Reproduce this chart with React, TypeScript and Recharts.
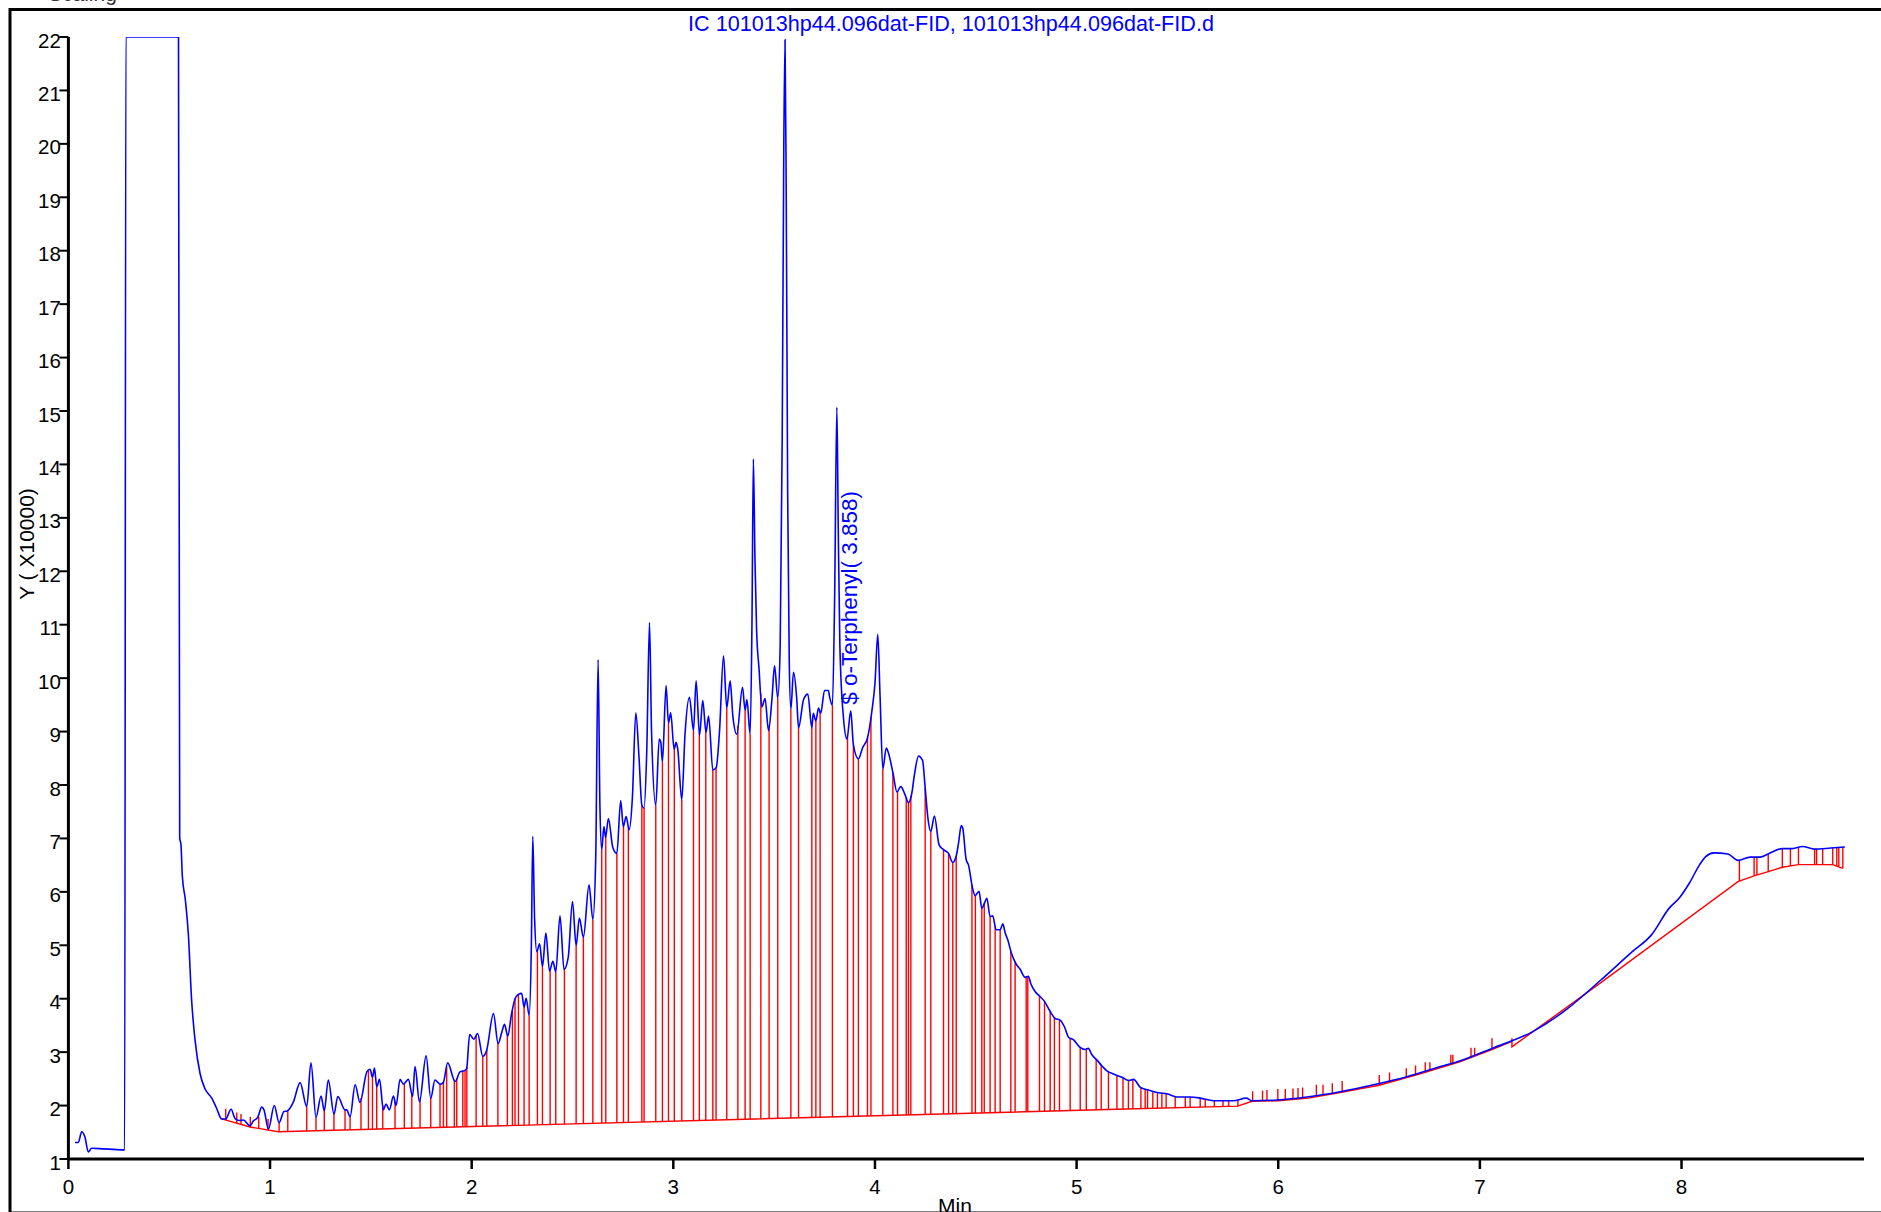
import { ComposedChart, Line, XAxis, YAxis, ReferenceDot } from "recharts";

// FID signal, [minutes, response x10000]
const trace: [number, number][] = [
  [0.033, 1.31], [0.049, 1.31], [0.066, 1.51], [0.082, 1.41], [0.099, 1.13], [0.115, 1.2],
  [0.172, 1.19], [0.223, 1.18], [0.279, 1.17], [0.285, 22], [0.546, 22], [0.552, 7.0],
  [0.558, 6.9], [0.565, 6.3], [0.58, 5.85], [0.595, 5.2], [0.611, 3.98], [0.628, 3.23],
  [0.653, 2.6], [0.678, 2.31], [0.711, 2.14], [0.735, 1.95], [0.76, 1.75], [0.78, 1.75],
  [0.807, 1.93], [0.826, 1.76], [0.846, 1.72], [0.868, 1.73], [0.901, 1.62], [0.917, 1.71],
  [0.939, 1.78], [0.959, 1.97], [0.97, 1.92], [0.992, 1.56], [1.021, 2.0], [1.045, 1.68],
  [1.069, 1.89], [1.085, 1.9], [1.116, 2.07], [1.149, 2.43], [1.182, 1.98], [1.203, 2.8],
  [1.228, 1.78], [1.253, 2.18], [1.269, 1.9], [1.289, 2.48], [1.317, 1.84], [1.336, 2.17],
  [1.372, 1.92], [1.38, 1.92], [1.397, 1.79], [1.422, 2.39], [1.446, 2.06], [1.48, 2.63],
  [1.496, 2.68], [1.508, 2.53], [1.518, 2.7], [1.529, 2.35], [1.543, 2.49], [1.562, 1.92],
  [1.575, 2.03], [1.592, 1.92], [1.612, 2.18], [1.625, 2.0], [1.645, 2.49], [1.661, 2.4],
  [1.686, 2.49], [1.707, 2.17], [1.719, 2.73], [1.741, 2.07], [1.774, 2.93], [1.797, 2.14],
  [1.818, 2.48], [1.843, 2.4], [1.859, 2.43], [1.881, 2.8], [1.918, 2.45], [1.942, 2.63],
  [1.967, 2.66], [1.975, 2.69], [1.99, 3.33], [2.011, 3.24], [2.029, 3.35], [2.055, 2.92],
  [2.074, 3.03], [2.108, 3.72], [2.131, 3.16], [2.15, 3.38], [2.163, 3.52], [2.179, 3.3],
  [2.197, 3.7], [2.215, 4.0], [2.232, 4.08], [2.248, 4.1], [2.26, 3.84], [2.27, 4.01],
  [2.285, 3.69], [2.296, 5.0], [2.303, 7.04], [2.312, 5.5], [2.323, 4.88], [2.337, 5.03],
  [2.351, 4.6], [2.368, 5.23], [2.386, 4.52], [2.403, 4.7], [2.417, 4.5], [2.438, 5.55],
  [2.458, 4.55], [2.479, 4.78], [2.5, 5.82], [2.518, 4.99], [2.534, 5.51], [2.554, 5.15],
  [2.582, 6.13], [2.601, 5.48], [2.615, 6.6], [2.627, 10.35], [2.636, 7.6], [2.645, 6.79],
  [2.656, 7.22], [2.664, 7.02], [2.678, 7.37], [2.7, 6.83], [2.72, 6.72], [2.739, 7.71],
  [2.752, 7.22], [2.766, 7.41], [2.781, 7.16], [2.797, 7.76], [2.814, 9.35], [2.83, 8.51],
  [2.844, 7.62], [2.855, 7.57], [2.868, 8.6], [2.882, 11.04], [2.892, 9.0], [2.913, 7.62],
  [2.93, 8.86], [2.938, 8.8], [2.946, 8.43], [2.964, 9.86], [2.976, 9.16], [2.987, 9.35],
  [3.004, 8.67], [3.014, 8.8], [3.022, 8.67], [3.042, 7.72], [3.058, 8.95], [3.08, 9.64],
  [3.1, 9.02], [3.113, 9.95], [3.13, 8.93], [3.146, 9.58], [3.162, 8.99], [3.175, 9.29],
  [3.196, 8.28], [3.213, 8.33], [3.229, 9.0], [3.249, 10.42], [3.265, 9.44], [3.282, 9.95],
  [3.295, 9.3], [3.315, 8.95], [3.343, 9.83], [3.356, 9.4], [3.365, 9.6], [3.381, 8.95],
  [3.39, 11.0], [3.397, 14.1], [3.405, 12.2], [3.413, 10.9], [3.425, 10.18], [3.439, 9.46],
  [3.455, 9.62], [3.472, 9.02], [3.489, 9.6], [3.502, 10.23], [3.518, 9.63], [3.53, 10.6],
  [3.54, 14.5], [3.548, 20.0], [3.554, 21.95], [3.56, 19.0], [3.567, 13.5], [3.575, 10.3],
  [3.583, 9.42], [3.596, 10.11], [3.612, 9.62], [3.621, 9.07], [3.646, 9.6], [3.667, 9.7],
  [3.687, 9.07], [3.694, 9.34], [3.707, 9.2], [3.72, 9.44], [3.731, 9.34], [3.75, 9.77],
  [3.769, 9.77], [3.775, 9.65], [3.789, 9.49], [3.8, 11.5], [3.811, 15.07], [3.818, 12.8],
  [3.826, 10.6], [3.844, 9.25], [3.861, 8.86], [3.88, 9.39], [3.893, 8.75], [3.918, 8.49],
  [3.939, 8.7], [3.963, 8.88], [3.985, 9.39], [4.0, 9.9], [4.014, 10.82], [4.025, 9.7],
  [4.039, 8.3], [4.056, 8.69], [4.067, 8.6], [4.089, 8.23], [4.109, 7.87], [4.128, 7.97],
  [4.15, 7.81], [4.166, 7.67], [4.183, 7.85], [4.196, 8.2], [4.216, 8.54], [4.236, 8.46],
  [4.249, 7.95], [4.262, 7.4], [4.277, 7.13], [4.295, 7.42], [4.318, 6.88], [4.34, 6.79],
  [4.365, 6.72], [4.386, 6.55], [4.403, 6.67], [4.414, 6.9], [4.428, 7.24], [4.436, 7.18],
  [4.452, 6.61], [4.464, 6.5], [4.484, 6.07], [4.497, 5.93], [4.516, 6.01], [4.53, 5.69],
  [4.542, 5.78], [4.555, 5.88], [4.571, 5.54], [4.584, 5.55], [4.601, 5.29], [4.621, 5.29],
  [4.634, 5.4], [4.646, 5.23], [4.659, 5.1], [4.676, 4.86], [4.7, 4.65], [4.72, 4.55],
  [4.745, 4.4], [4.761, 4.42], [4.773, 4.28], [4.795, 4.13], [4.816, 4.05], [4.839, 3.96],
  [4.869, 3.76], [4.894, 3.63], [4.918, 3.6], [4.939, 3.48], [4.96, 3.28], [4.985, 3.23],
  [5.014, 3.1], [5.042, 3.05], [5.058, 3.07], [5.076, 2.95], [5.101, 2.85], [5.126, 2.74],
  [5.15, 2.65], [5.183, 2.59], [5.225, 2.53], [5.258, 2.47], [5.283, 2.49], [5.316, 2.34],
  [5.357, 2.29], [5.406, 2.24], [5.448, 2.22], [5.497, 2.16], [5.563, 2.16], [5.613, 2.14],
  [5.679, 2.09], [5.778, 2.09], [5.841, 2.14], [5.869, 2.09], [5.977, 2.1], [6.142, 2.16],
  [6.307, 2.26], [6.473, 2.39], [6.638, 2.54], [6.804, 2.73], [6.903, 2.84], [7.06, 3.07],
  [7.26, 3.38], [7.43, 3.8], [7.6, 4.35], [7.756, 4.88], [7.85, 5.19], [7.94, 5.7],
  [7.99, 5.89], [8.04, 6.17], [8.09, 6.51], [8.12, 6.66], [8.16, 6.73], [8.23, 6.71],
  [8.28, 6.59], [8.34, 6.65], [8.39, 6.65], [8.43, 6.71], [8.5, 6.81], [8.55, 6.81],
  [8.6, 6.85], [8.66, 6.8], [8.74, 6.82], [8.81, 6.84],
];

// integration baseline
const baseline: [number, number][] = [
  [0.76, 1.75], [0.901, 1.6], [1.041, 1.51], [5.2, 1.93], [5.8, 1.99], [5.869, 2.08],
  [6.0, 2.09], [6.15, 2.14], [6.3, 2.24], [6.5, 2.38], [6.7, 2.59], [6.9, 2.82],
  [7.06, 3.05], [7.159, 3.2], [7.159, 3.1], [7.6, 4.3], [8.28, 6.19], [8.36, 6.3],
  [8.43, 6.38], [8.5, 6.46], [8.58, 6.51], [8.75, 6.51], [8.8, 6.44],
];

// peak split times (drop lines from baseline to signal)
const dropTimes: number[] = [
  1.045, 1.088, 1.182, 1.228, 1.269, 1.317, 1.372, 1.397, 1.451, 1.488, 1.508, 1.529,
  1.559, 1.62, 1.666, 1.703, 1.744, 1.797, 1.843, 1.86, 1.876, 1.914, 1.926, 1.956,
  1.967, 1.976, 2.022, 2.055, 2.075, 2.13, 2.177, 2.202, 2.215, 2.232, 2.26, 2.285,
  2.326, 2.351, 2.389, 2.417, 2.46, 2.518, 2.554, 2.601, 2.645, 2.665, 2.72, 2.753,
  2.777, 2.844, 2.855, 2.913, 2.946, 2.976, 3.005, 3.042, 3.1, 3.129, 3.161, 3.196,
  3.212, 3.265, 3.32, 3.356, 3.381, 3.434, 3.475, 3.518, 3.583, 3.621, 3.687, 3.707,
  3.728, 3.789, 3.864, 3.893, 3.918, 3.963, 3.98, 4.039, 4.089, 4.112, 4.155, 4.166,
  4.178, 4.249, 4.277, 4.34, 4.365, 4.386, 4.403, 4.481, 4.498, 4.53, 4.542, 4.571,
  4.596, 4.621, 4.674, 4.695, 4.75, 4.758, 4.816, 4.841, 4.869, 4.89, 4.915, 4.968,
  5.018, 5.048, 5.097, 5.122, 5.158, 5.2, 5.23, 5.257, 5.279, 5.319, 5.34, 5.352,
  5.378, 5.401, 5.423, 5.444, 5.489, 5.539, 5.563, 5.613, 5.638, 5.683, 5.726, 5.754,
  5.8, 8.287, 8.36, 8.374, 8.43, 8.5, 8.54, 8.58, 8.66, 8.67, 8.7, 8.75, 8.77, 8.78, 8.8,
];

// start/end markers: [minutes, top of marker]
const peakMarks: [number, number][] = [
  [0.78, 1.94], [0.835, 1.87], [0.856, 1.84], [0.902, 1.79], [0.944, 1.79], [0.99, 1.75],
  [5.873, 2.27], [5.922, 2.28], [5.944, 2.29], [5.998, 2.31], [6.035, 2.31], [6.073, 2.32],
  [6.098, 2.33], [6.121, 2.34], [6.189, 2.39], [6.222, 2.39], [6.268, 2.42], [6.317, 2.46],
  [6.501, 2.57], [6.552, 2.62], [6.635, 2.7], [6.681, 2.75], [6.729, 2.81], [6.752, 2.81],
  [6.856, 2.95], [6.866, 2.95], [6.956, 3.08], [6.974, 3.08], [7.06, 3.26], [7.159, 3.26],
];

const xTicks = [0, 1, 2, 3, 4, 5, 6, 7, 8];
const yTicks = [1, 2, 3, 4, 5, 6, 7, 8, 9, 10, 11, 12, 13, 14, 15, 16, 17, 18, 19, 20, 21, 22];

const FONT = '"Liberation Sans", Arial, sans-serif';
const BLUE = "#0000ff";
const RED = "#ff0000";

function valueAt(series: [number, number][], t: number): number {
  for (let i = 1; i < series.length; i++) {
    const [t0, v0] = series[i - 1];
    const [t1, v1] = series[i];
    if (t >= t0 && t <= t1) {
      if (t1 === t0) return v0;
      return v0 + ((v1 - v0) * (t - t0)) / (t1 - t0);
    }
  }
  return series[series.length - 1][1];
}

const traceData = trace.map(([t, v]) => ({ t, v }));
const baselineData = baseline.map(([t, v]) => ({ t, v }));
const dropData = dropTimes.flatMap((t) => [
  { t, v: valueAt(baseline, t) },
  { t, v: valueAt(trace, t) },
  { t, v: null },
]);
const markData = peakMarks.flatMap(([t, top]) => [
  { t, v: valueAt(baseline, t) },
  { t, v: top },
  { t, v: null },
]);

function YTick({ x, y, payload }: any) {
  return (
    <text x={x + 1.5} y={y + 10.5} textAnchor="end" fontSize={20.5} fontFamily={FONT} fill="#000">
      {payload.value}
    </text>
  );
}

function XTick({ x, y, payload }: any) {
  return (
    <text x={x} y={y + 25} textAnchor="middle" fontSize={20.5} fontFamily={FONT} fill="#000">
      {payload.value}
    </text>
  );
}

function CompoundLabel({ cx, cy }: any) {
  const lx = cx + 11;
  return (
    <text
      x={lx}
      y={cy}
      transform={`rotate(-90 ${lx} ${cy})`}
      fontSize={22.5}
      fontFamily={FONT}
      fill={BLUE}
    >
      $ o-Terphenyl( 3.858)
    </text>
  );
}

export default function App() {
  return (
    <div style={{ position: "fixed", left: 0, top: 0, width: 1881, height: 1212, background: "#fff", overflow: "hidden" }}>
      <ComposedChart width={1881} height={1212} margin={{ top: 37, right: 17, bottom: 0, left: 0 }}>
        <XAxis
          dataKey="t"
          type="number"
          domain={[0, 8.905]}
          ticks={xTicks}
          interval={0}
          allowDataOverflow
          height={53}
          tickSize={10}
          tickMargin={0}
          axisLine={{ stroke: "#000", strokeWidth: 3 }}
          tickLine={{ stroke: "#000", strokeWidth: 2.5 }}
          tick={<XTick />}
        />
        <YAxis
          type="number"
          domain={[1, 22]}
          ticks={yTicks}
          interval={0}
          allowDataOverflow
          width={68.4}
          tickSize={9}
          tickMargin={0}
          axisLine={{ stroke: "#000", strokeWidth: 3 }}
          tickLine={{ stroke: "#000", strokeWidth: 2 }}
          tick={<YTick />}
        />
        <Line data={baselineData} dataKey="v" type="linear" stroke={RED} strokeWidth={1.4} dot={false} isAnimationActive={false} />
        <Line data={dropData} dataKey="v" type="linear" stroke={RED} strokeWidth={1.4} dot={false} connectNulls={false} isAnimationActive={false} />
        <Line data={markData} dataKey="v" type="linear" stroke={RED} strokeWidth={1.4} dot={false} connectNulls={false} isAnimationActive={false} />
        <Line data={traceData} dataKey="v" type="monotone" stroke={BLUE} strokeWidth={1.6} dot={false} isAnimationActive={false} />
        <ReferenceDot x={3.858} y={9.5} r={0} shape={<CompoundLabel />} />
      </ComposedChart>
      <svg width={1881} height={1212} style={{ position: "absolute", left: 0, top: 0, pointerEvents: "none" }}>
        <rect x={10} y={9.5} width={1900} height={1203.5} fill="none" stroke="#000" strokeWidth={3} />
        <text x={48} y={1} fontSize={21} fontFamily={FONT} fill="#333">Scaling</text>
        <text x={951} y={31} textAnchor="middle" fontSize={21.6} fontFamily={FONT} fill={BLUE}>
          IC 101013hp44.096dat-FID, 101013hp44.096dat-FID.d
        </text>
        <text x={34} y={544} transform="rotate(-90 34 544)" textAnchor="middle" fontSize={21} fontFamily={FONT} fill="#000">
          Y ( X10000)
        </text>
        <text x={955} y={1213} textAnchor="middle" fontSize={21} fontFamily={FONT} fill="#000">
          Min
        </text>
      </svg>
    </div>
  );
}
